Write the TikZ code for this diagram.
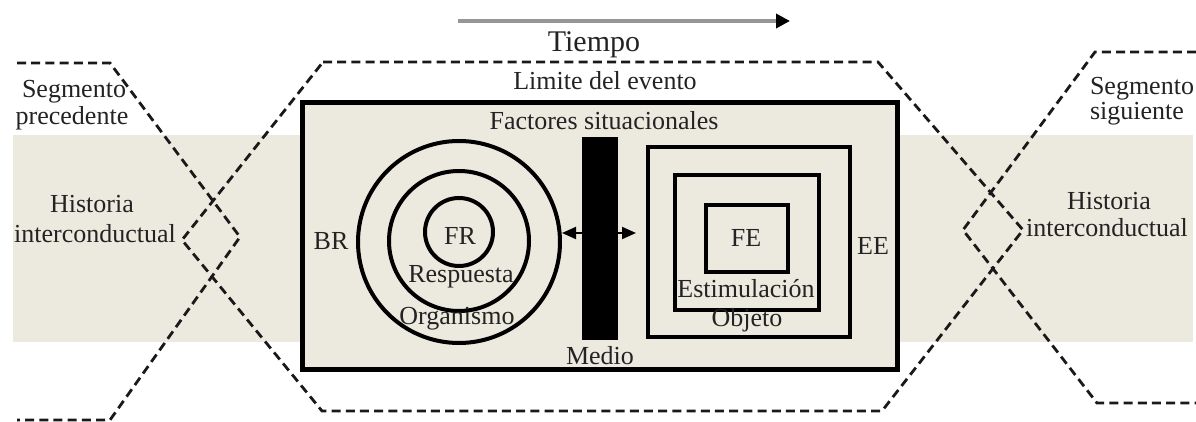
\documentclass[tikz,border=0pt]{standalone}
\usepackage{fontspec}
\setmainfont{Liberation Serif}
\usetikzlibrary{arrows.meta}
\definecolor{band}{RGB}{236,233,223}
\definecolor{txt}{RGB}{35,35,35}
\definecolor{timegray}{RGB}{150,150,150}
\begin{document}
\begin{tikzpicture}[x=0.5pt,y=-0.5pt,
  lbl/.style={font=\fontsize{13}{15}\selectfont, text=txt, inner sep=0pt, anchor=base},
  biglbl/.style={lbl, font=\fontsize{15}{17}\selectfont},
  hexline/.style={line width=1.4pt, dash pattern=on 4.5pt off 2.6pt, draw=black!90},
  ring/.style={circle, draw=black, line width=2pt, inner sep=0pt},
  sq/.style={rectangle, draw=black, line width=2pt, inner sep=0pt},
  dbl/.style={line width=1pt, {Triangle[length=7pt,width=6pt]}-{Triangle[length=7pt,width=6pt]}},
  timearrow/.style={draw=timegray, line width=2pt, -{Triangle[length=7pt,width=7pt,color=black]}}]
\useasboundingbox (0,0) rectangle (1196,422);
% band
\fill[band] (13,135) rectangle (1193,342);
% hexagons (segment limits)
\draw[hexline] (323,62) -- (878,62) -- (1023,230) -- (882,411) -- (322,411) -- (182,240) -- cycle;
\draw[hexline] (17,63) -- (110,63) -- (240,237) -- (110,420) -- (17,420);
\draw[hexline] (1196,52) -- (1095,52) -- (963,230) -- (1097,403) -- (1196,403);
% main box
\draw[fill=band, draw=black, line width=2.5pt] (302,103) rectangle (897,370);
% time arrow
\coordinate (t0) at (458,21);
\coordinate (t1) at (790,21);
\draw[timearrow] (t0) -- (t1);
% organism circles
\node[ring, minimum size=101pt] (org) at (459,242) {};
\node[ring, minimum size=70pt] (resp) at (459,241) {};
\node[ring, minimum size=34pt] (fr) at (459,232) {};
% object squares
\node[sq, minimum width=101pt, minimum height=95pt] (obj) at (749,242) {};
\node[sq, minimum width=72pt, minimum height=67.5pt] (est) at (747,242.5) {};
\node[sq, minimum width=41pt, minimum height=33.5pt] (fe) at (747,238.5) {};
% double arrow through medium
\coordinate (a0) at (562,233);
\coordinate (a1) at (636,233);
\draw[dbl] (a0) -- (a1);
\node[fill=black, inner sep=0pt, minimum width=18pt, minimum height=101.5pt] (medio) at (600,238.5) {};
% texts
\node[biglbl] (tiempo) at (594,52) {Tiempo};
\node[lbl] (limite) at (605,90) {Limite del evento};
\node[lbl] (factores) at (604,130) {Factores situacionales};
\node[lbl] (seg1) at (74,98) {Segmento};
\node[lbl] (prec) at (72,125) {precedente};
\node[lbl] (seg2) at (1142,95) {Segmento};
\node[lbl] (sig) at (1137,120) {siguiente};
\node[lbl] (hist1) at (92,213) {Historia};
\node[lbl] (inter1) at (95,243) {interconductual};
\node[lbl] (hist2) at (1109,210) {Historia};
\node[lbl] (inter2) at (1107,237) {interconductual};
\node[lbl] (br) at (331,250) {BR};
\node[lbl] (frl) at (460,245) {FR};
\node[lbl] (respl) at (461,283) {Respuesta};
\node[lbl] (orgl) at (457,325) {Organismo};
\node[lbl] (mediol) at (600,365) {Medio};
\node[lbl] (fel) at (746,247) {FE};
\node[lbl] (ee) at (873,255) {EE};
\node[lbl] (estl) at (746,298) {Estimulación};
\node[lbl] (objl) at (747,327) {Objeto};
\end{tikzpicture}
\end{document}
